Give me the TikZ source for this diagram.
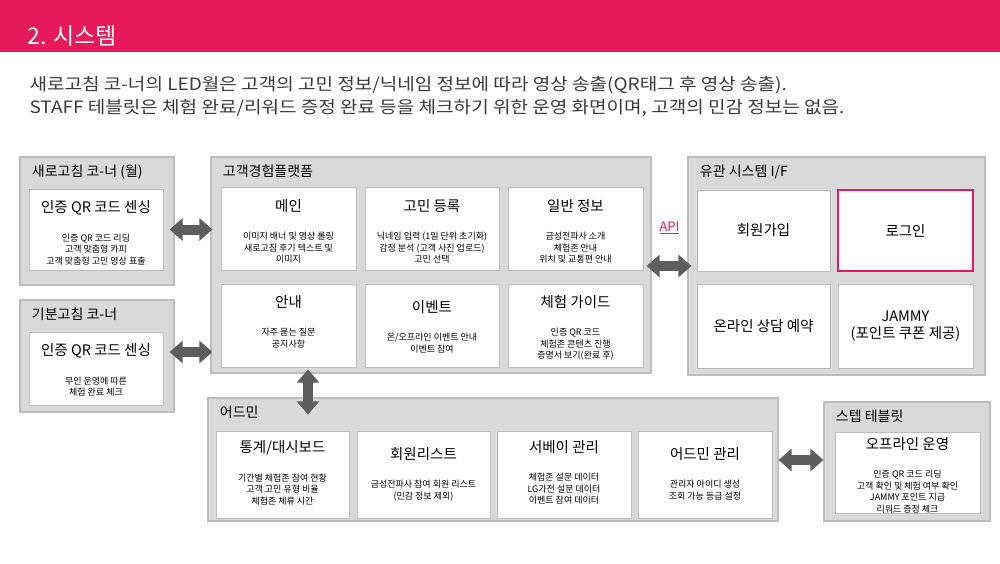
\documentclass[tikz,border=0pt]{standalone}
\usepackage{fontspec}
\setmainfont{Noto Sans CJK KR}
\newfontfamily\widefont[FakeStretch=1.12]{Noto Sans CJK KR}
\usetikzlibrary{arrows.meta}
\definecolor{hdred}{HTML}{E6195A}
\definecolor{grpfill}{HTML}{D9D9D9}
\definecolor{grpline}{HTML}{BDBDBD}
\definecolor{arrgray}{HTML}{5E5E5E}
\definecolor{bodytxt}{HTML}{3A3A3A}
\tikzset{
  grp/.style={draw=grpline, line width=1.2pt, fill=grpfill, inner sep=0pt},
  card/.style={draw=grpline, line width=1pt, fill=white, inner sep=0pt},
  grptitle/.style={anchor=north west, xshift=9pt, yshift=-5pt, font=\fontsize{14}{16}\selectfont},
  head/.style={font=\fontsize{14.5}{17}\selectfont},
  detail/.style={anchor=north, align=center, font=\fontsize{9}{11.5}\selectfont},
  dbl/.style={arrgray, line width=10pt, {Triangle[width=22pt,length=13pt]}-{Triangle[width=22pt,length=13pt]}},
}
% card with heading and detail lines
\newcommand{\card}[7]{%
  \node[card, minimum width=#3, minimum height=#4] (#1) at (#2) {};
  \node[head] (#1h) at ([yshift=-#7]#1.north) {#5};
  \node[detail] (#1d) at ([yshift=-12pt]#1h.south) {#6};
}
\begin{document}
\begin{tikzpicture}[x=1pt,y=-1pt]
\useasboundingbox (0,0) rectangle (1000,564);
% header
\fill[hdred] (0,0) rectangle (1000,52);
\node[anchor=west, white, font=\fontsize{23}{26}\selectfont] (title) at (24,36) {2. 시스템};
\node[anchor=west, bodytxt, font=\widefont\fontsize{17}{20}\selectfont] (line1) at (26,85)
  {새로고침 코-너의 LED월은 고객의 고민 정보/닉네임 정보에 따라 영상 송출(QR태그 후 영상 송출).};
\node[anchor=west, bodytxt, font=\widefont\fontsize{17}{20}\selectfont] (line2) at (26,108)
  {STAFF 테블릿은 체험 완료/리워드 증정 완료 등을 체크하기 위한 운영 화면이며, 고객의 민감 정보는 없음.};

% groups
\node[grp, minimum width=154, minimum height=128] (sae) at (97,221) {};
\node[grptitle] at (sae.north west) {새로고침 코-너 (월)};
\node[grp, minimum width=154, minimum height=112] (gib) at (97,356) {};
\node[grptitle] at (gib.north west) {기분고침 코-너};
\node[grp, minimum width=440, minimum height=216] (plat) at (431,265) {};
\node[grptitle] at (plat.north west) {고객경험플랫폼};
\node[grp, minimum width=570, minimum height=123] (adm) at (493,459.5) {};
\node[grptitle] at (adm.north west) {어드민};
\node[grp, minimum width=297, minimum height=218] (ifc) at (836.5,266) {};
\node[grptitle] at (ifc.north west) {유관 시스템 I/F};
\node[grp, minimum width=166, minimum height=119] (step) at (907,461.5) {};
\node[grptitle] at (step.north west) {스텝 테블릿};

% corners
\card{saeqr}{96,229.5}{134}{81}{인증 QR 코드 센싱}{인증 QR 코드 리딩\\고객 맞춤형 카피\\고객 맞춤형 고민 영상 표출}{19pt}
\card{gibqr}{96,368.5}{134}{73}{인증 QR 코드 센싱}{무인 운영에 따른\\체험 완료 체크}{19pt}

% platform
\card{main}{288.5,228.5}{135}{83}{메인}{이미지 배너 및 영상 롤링\\새로고침 후기 텍스트 및\\이미지}{20pt}
\card{worry}{432,228.5}{134}{83}{고민 등록}{닉네임 입력 (1일 단위 초기화)\\감정 분석 (고객 사진 업로드)\\고민 선택}{20pt}
\card{info}{575.5,228.5}{135}{83}{일반 정보}{금성전파사 소개\\체험존 안내\\위치 및 교통편 안내}{20pt}
\card{guide}{288.5,325.5}{135}{83}{안내}{자주 묻는 질문\\공지사항}{19pt}
\card{event}{432,325.5}{134}{83}{이벤트}{온/오프라인 이벤트 안내\\이벤트 참여}{24pt}
\card{exp}{575.5,325.5}{135}{83}{체험 가이드}{인증 QR 코드\\체험존 콘텐츠 진행\\증명서 보기(완료 후)}{19pt}

% admin
\card{stat}{282.5,474.5}{133}{87}{통계/대시보드}{기간별 체험존 참여 현황\\고객 고민 유형 비율\\체험존 체류 시간}{17pt}
\card{mem}{423.5,474.5}{133}{87}{회원리스트}{금성전파사 참여 회원 리스트\\(민감 정보 제외)}{24pt}
\card{surv}{564,474.5}{134}{87}{서베이 관리}{체험존 설문 데이터\\LG가전 설문 데이터\\이벤트 참여 데이터}{17pt}
\card{admin}{705,474.5}{134}{87}{어드민 관리}{관리자 아이디 생성\\조회 가능 등급 설정}{24pt}

% staff tablet
\card{offl}{907.5,472.5}{145}{81}{오프라인 운영}{인증 QR 코드 리딩\\고객 확인 및 체험 여부 확인\\JAMMY 포인트 지급\\리워드 증정 체크}{13pt}

% external systems
\node[card, minimum width=133, minimum height=81, head] (join) at (763.5,230.5) {회원가입};
\node[card, draw=hdred, line width=1.6pt, minimum width=135, minimum height=81, head] (login) at (905.5,230.5) {로그인};
\node[card, minimum width=133, minimum height=84, head] (consult) at (763.5,326) {온라인 상담 예약};
\node[card, minimum width=135, minimum height=84, head, align=center] (jammy) at (905.5,326) {JAMMY\\(포인트 쿠폰 제공)};

% connectors
\draw[dbl, shorten <=-5pt, shorten >=-2pt] (sae.east |- saeqr) -- (plat.west |- saeqr);
\draw[dbl, shorten <=-5pt, shorten >=-2pt] (gib.east |- 0,352) -- (plat.west |- 0,352);
\draw[dbl, shorten <=-4pt, shorten >=-17pt] (plat.south -| 308,0) -- (adm.north -| 308,0);
\draw[dbl, shorten <=-5pt, shorten >=-4pt] (plat.east |- 0,266) -- (ifc.west |- 0,266);
\draw[dbl] (adm.east |- 0,460) -- (step.west |- 0,460);
\node[hdred, font=\fontsize{13}{15}\selectfont] (api) at (669.5,228) {\underline{API}};
\end{tikzpicture}
\end{document}
